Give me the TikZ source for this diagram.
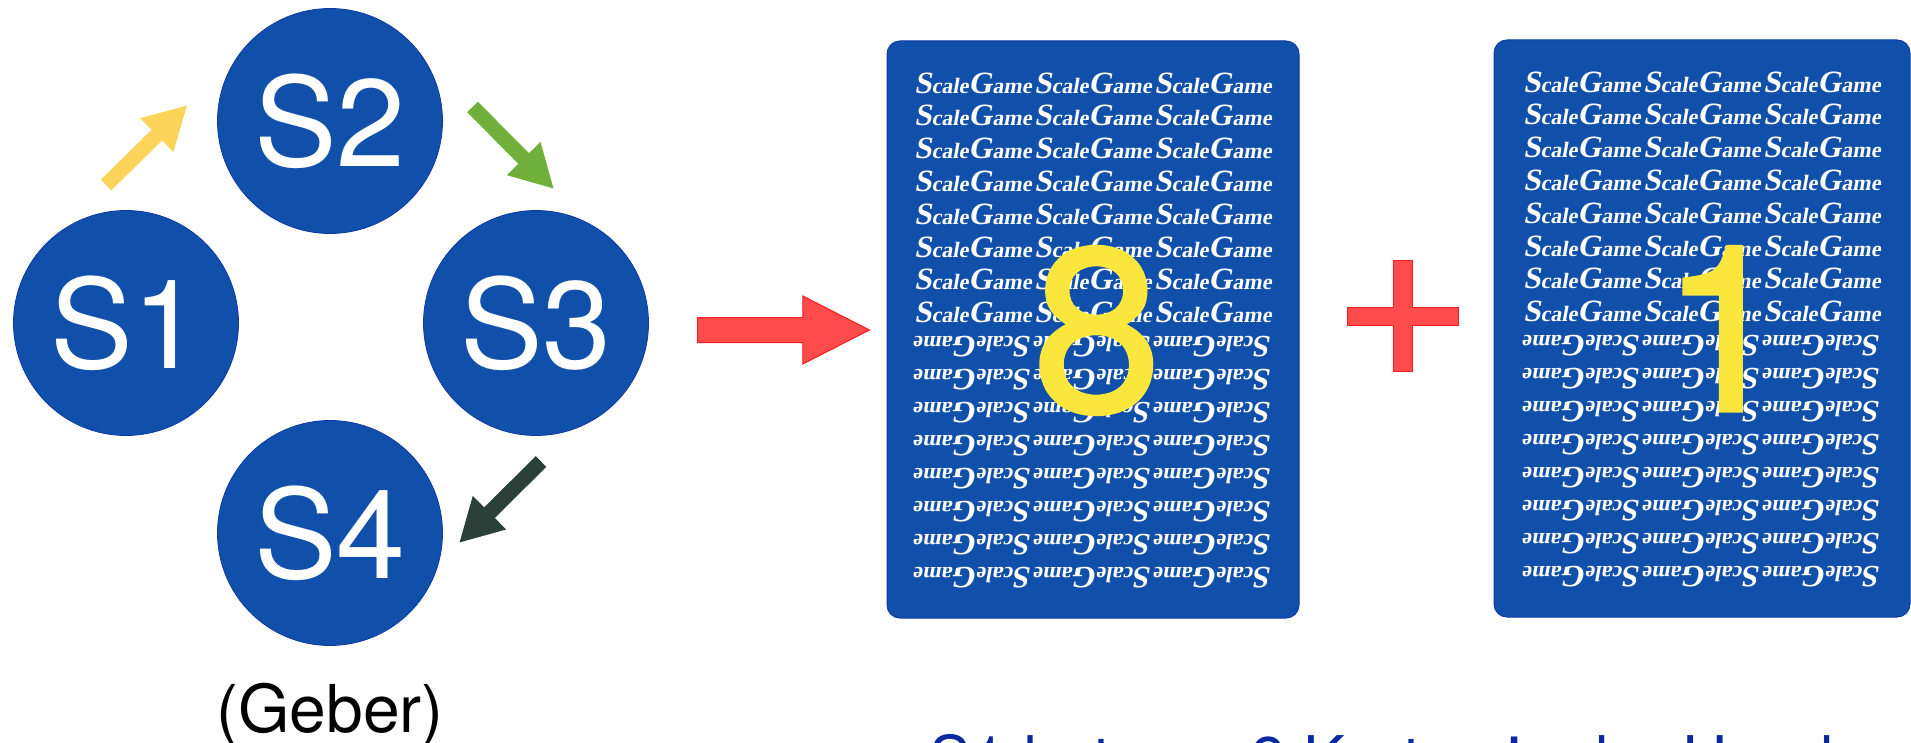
\documentclass[tikz,border=0pt]{standalone}
\usepackage{fontspec}
\setmainfont{TeX Gyre Heros}
\newfontfamily\cardfont[FakeSlant=0.18]{Liberation Serif}
\newfontfamily\heavyfont[FakeBold=1.5]{TeX Gyre Heros}
\usetikzlibrary{arrows.meta,shapes.arrows}
\definecolor{deck}{RGB}{17,80,170}
\definecolor{rim}{RGB}{14,58,165}
\definecolor{digit}{RGB}{250,230,60}
\definecolor{amber}{RGB}{253,212,90}
\definecolor{leaf}{RGB}{112,176,58}
\definecolor{pine}{RGB}{42,64,56}
\definecolor{signal}{RGB}{255,75,75}
\definecolor{signalrim}{RGB}{240,30,30}
\definecolor{ink}{RGB}{10,40,160}
\newcommand{\brandmark}{{\fontsize{31}{31}\selectfont S}cale{\fontsize{31}{31}\selectfont G}ame}
\tikzset{
  % Spieler
  seat/.style={circle, fill=deck, draw=rim, line width=0.8pt, inner sep=0pt, minimum size=225pt,
    text=white, font=\fontsize{124}{124}\selectfont},
  % Pfeile
  flow/.style={line width=15pt, -{Triangle[length=43pt,width=44pt]}},
  pointer/.style={single arrow, fill=signal, draw=signalrim, line width=1pt, inner xsep=0pt, inner ysep=12pt,
    minimum height=172pt, single arrow head extend=21.5pt, single arrow tip angle=54, anchor=tail},
  plusmark/.style={fill=signal, draw=signalrim, line width=1pt},
  % Karten
  card/.style={rectangle, rounded corners=13pt, fill=deck, draw=rim, line width=1pt,
    inner sep=0pt},
  brand/.style={text=white, inner sep=0pt, font=\cardfont\bfseries\fontsize{22}{22}\selectfont},
  value/.style={text=digit, inner sep=0pt, anchor=base, font=\heavyfont\fontsize{232}{232}\selectfont},
  caption/.style={inner sep=0pt, anchor=base, font=\fontsize{66}{66}\selectfont},
}
\begin{document}
\begin{tikzpicture}[x=1pt, y=-1pt]
  \path[use as bounding box, clip] (0,0) rectangle (1911,743);
  \fill[white] (0,0) rectangle (1911,743);
  % Kreis der Spieler
  \node[seat] (s1) at (126,323) {S1};
  \node[seat] (s2) at (330,121) {S2};
  \node[seat] (s3) at (536,323) {S3};
  \node[seat] (s4) at (330,533) {S4};
  \draw[flow, amber] ([shift={(-20,-138)}]s1.center) -- ([shift={(-142.5,-16)}]s2.center);
  \draw[flow, leaf] ([shift={(142.5,-14)}]s2.center) -- ([shift={(18,-134)}]s3.center);
  \draw[flow, pine] ([shift={(5,138.5)}]s3.center) -- ([shift={(129,10)}]s4.center);
  \node[caption] (geber) at (330,732) {(Geber)};
  % Karten
  \node[card, minimum width=412pt, minimum height=577pt] (card1) at (1093,329.5) {};
  \node[card, minimum width=416pt, minimum height=577pt] (card2) at (1702,328.5) {};
  \foreach \c in {card1,card2} {
    \foreach \col in {-120,0,120} {
      \foreach \k in {0,...,7} {
        \pgfmathsetmacro{\up}{-246.5+32.8*\k}
        \pgfmathsetmacro{\dn}{17.5+33*\k}
        \node[brand] at ([shift={(\col,\up)}]\c.center) {\brandmark};
        \node[brand, rotate=180] at ([shift={(\col,\dn)}]\c.center) {\brandmark};
      }
    }
  }
  \node[value] (eight) at (1097,411) {8};
  \node[value] (one) at (1725,411) {1};
  % Rechenzeichen
  \node[pointer] (arrow) at (697,330) {};
  \draw[plusmark] (1393,261) -- (1412,261) -- (1412,307) -- (1458,307) -- (1458,325) -- (1412,325)
    -- (1412,371) -- (1393,371) -- (1393,325) -- (1347,325) -- (1347,307) -- (1393,307) -- cycle;
  \node[caption, anchor=base west, text=ink, font=\fontsize{63}{63}\selectfont] (result) at (929,781)
    {S1 hat nun 9 Karten in der Hand};
\end{tikzpicture}
\end{document}
